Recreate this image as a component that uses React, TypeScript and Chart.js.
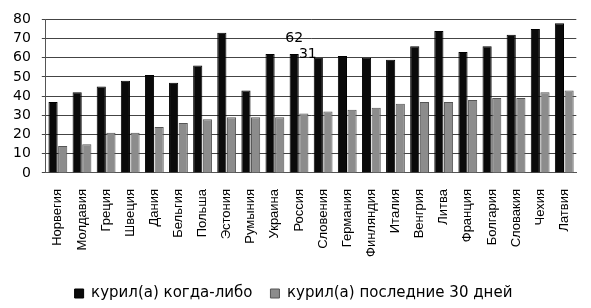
import React, { useEffect, useRef } from "react";
import { Chart, registerables } from "chart.js";

Chart.register(...registerables);

const categories = [
  "Норвегия", "Молдавия", "Греция", "Швеция", "Дания", "Бельгия", "Польша",
  "Эстония", "Румыния", "Украина", "Россия", "Словения", "Германия",
  "Финляндия", "Италия", "Венгрия", "Литва", "Франция", "Болгария",
  "Словакия", "Чехия", "Латвия",
];
const everSmoked = [37, 42, 45, 48, 51, 47, 56, 73, 43, 62, 62, 60, 61, 60, 59, 66, 74, 63, 66, 72, 75, 78];
const last30Days = [14, 15, 21, 21, 24, 26, 28, 29, 29, 29, 31, 32, 33, 34, 36, 37, 37, 38, 39, 39, 42, 43];
const seriesNames = ["курил(а) когда-либо", "курил(а) последние 30 дней"];
const labelIndex = 10;

const labelPlugin = {
  id: "russiaLabels",
  afterDatasetsDraw(chart: any) {
    const ctx = chart.ctx;
    const y = chart.scales.y;
    const m0 = chart.getDatasetMeta(0).data[labelIndex];
    const m1 = chart.getDatasetMeta(1).data[labelIndex];
    ctx.save();
    ctx.fillStyle = "#000";
    ctx.font = "14px 'DejaVu Sans'";
    ctx.textAlign = "center";
    ctx.textBaseline = "middle";
    ctx.fillText(String(everSmoked[labelIndex]), m0.x, y.getPixelForValue(everSmoked[labelIndex]) - 16);
    ctx.fillText(String(last30Days[labelIndex]), m1.x + 4, y.getPixelForValue(everSmoked[labelIndex]));
    ctx.restore();
  },
};

export default function App() {
  const ref = useRef<HTMLCanvasElement>(null);
  useEffect(() => {
    const chart = new Chart(ref.current!, {
      type: "bar",
      data: {
        labels: categories,
        datasets: [
          {
            label: seriesNames[0],
            data: everSmoked,
            backgroundColor: "#0a0a0a",
            borderColor: "#000",
            borderWidth: 1,
            categoryPercentage: 0.8,
            barPercentage: 0.95,
          },
          {
            label: seriesNames[1],
            data: last30Days,
            backgroundColor: "#8c8c8c",
            borderColor: "#555",
            borderWidth: 1,
            categoryPercentage: 0.8,
            barPercentage: 0.95,
          },
        ],
      },
      options: {
        animation: false,
        responsive: true,
        maintainAspectRatio: false,
        layout: { padding: { left: 2, right: 6, top: 16, bottom: -3 } },
        plugins: {
          legend: {
            position: "bottom",
            labels: {
              boxWidth: 9,
              boxHeight: 9,
              color: "#000",
              font: { family: "'DejaVu Sans'", size: 15 },
              padding: 18,
            },
          },
          tooltip: { enabled: false },
        },
        scales: {
          x: {
            grid: { display: false, drawTicks: true, tickLength: 5, color: "#555" },
            border: { color: "#555" },
            ticks: {
              color: "#000",
              maxRotation: 90,
              minRotation: 90,
              autoSkip: false,
              font: { family: "'Liberation Sans'", size: 13 },
              padding: 11,
            },
          },
          y: {
            min: 0,
            max: 80,
            ticks: {
              stepSize: 10,
              autoSkip: false,
              color: "#000",
              font: { family: "'DejaVu Sans'", size: 14 },
              padding: 11,
            },
            grid: { color: "#444", lineWidth: 1, tickLength: 4 },
            border: { color: "#555" },
          },
        },
      },
      plugins: [labelPlugin],
    });
    return () => chart.destroy();
  }, []);
  return (
    <div style={{ position: "fixed", left: 0, top: 0, width: 591, height: 308 }}>
      <canvas ref={ref} />
    </div>
  );
}
